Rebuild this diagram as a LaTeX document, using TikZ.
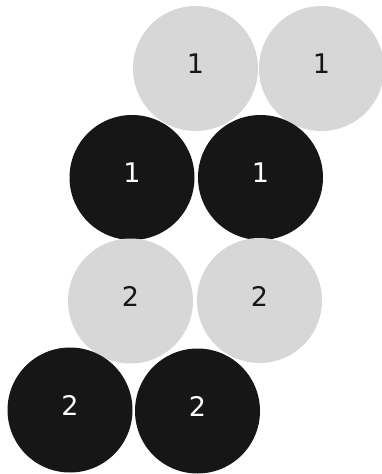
\documentclass[tikz,border=0pt]{standalone}
\usepackage{fontspec}
\setmainfont{DejaVu Sans}
\usepackage{xcolor}
\usetikzlibrary{positioning}
\definecolor{ballgray}{HTML}{D7D7D7}
\definecolor{ballblack}{HTML}{161616}

\begin{document}
\begin{tikzpicture}[x=1pt,y=-1pt,font=\fontsize{27}{32}\selectfont]
\tikzstyle{ball}=[circle,inner sep=0pt,minimum size=125pt,text depth=9pt]
\tikzstyle{light}=[ball,fill=ballgray,text=ballblack]
\tikzstyle{dark}=[ball,fill=ballblack,text=white]
\useasboundingbox (0,0) rectangle (381,474);
\node[light] (up1) at (195.5,68.5) {1};
\node[light] (up2) at (321.5,68.5) {1};
\node[dark] (dn1) at (132,177.5) {1};
\node[dark] (dn2) at (260.5,177.5) {1};
\node[light] (up3) at (130.5,301) {2};
\node[light] (up4) at (259.5,300.5) {2};
\node[dark] (dn3) at (70,410) {2};
\node[dark] (dn4) at (197.5,411) {2};
\end{tikzpicture}
\end{document}
